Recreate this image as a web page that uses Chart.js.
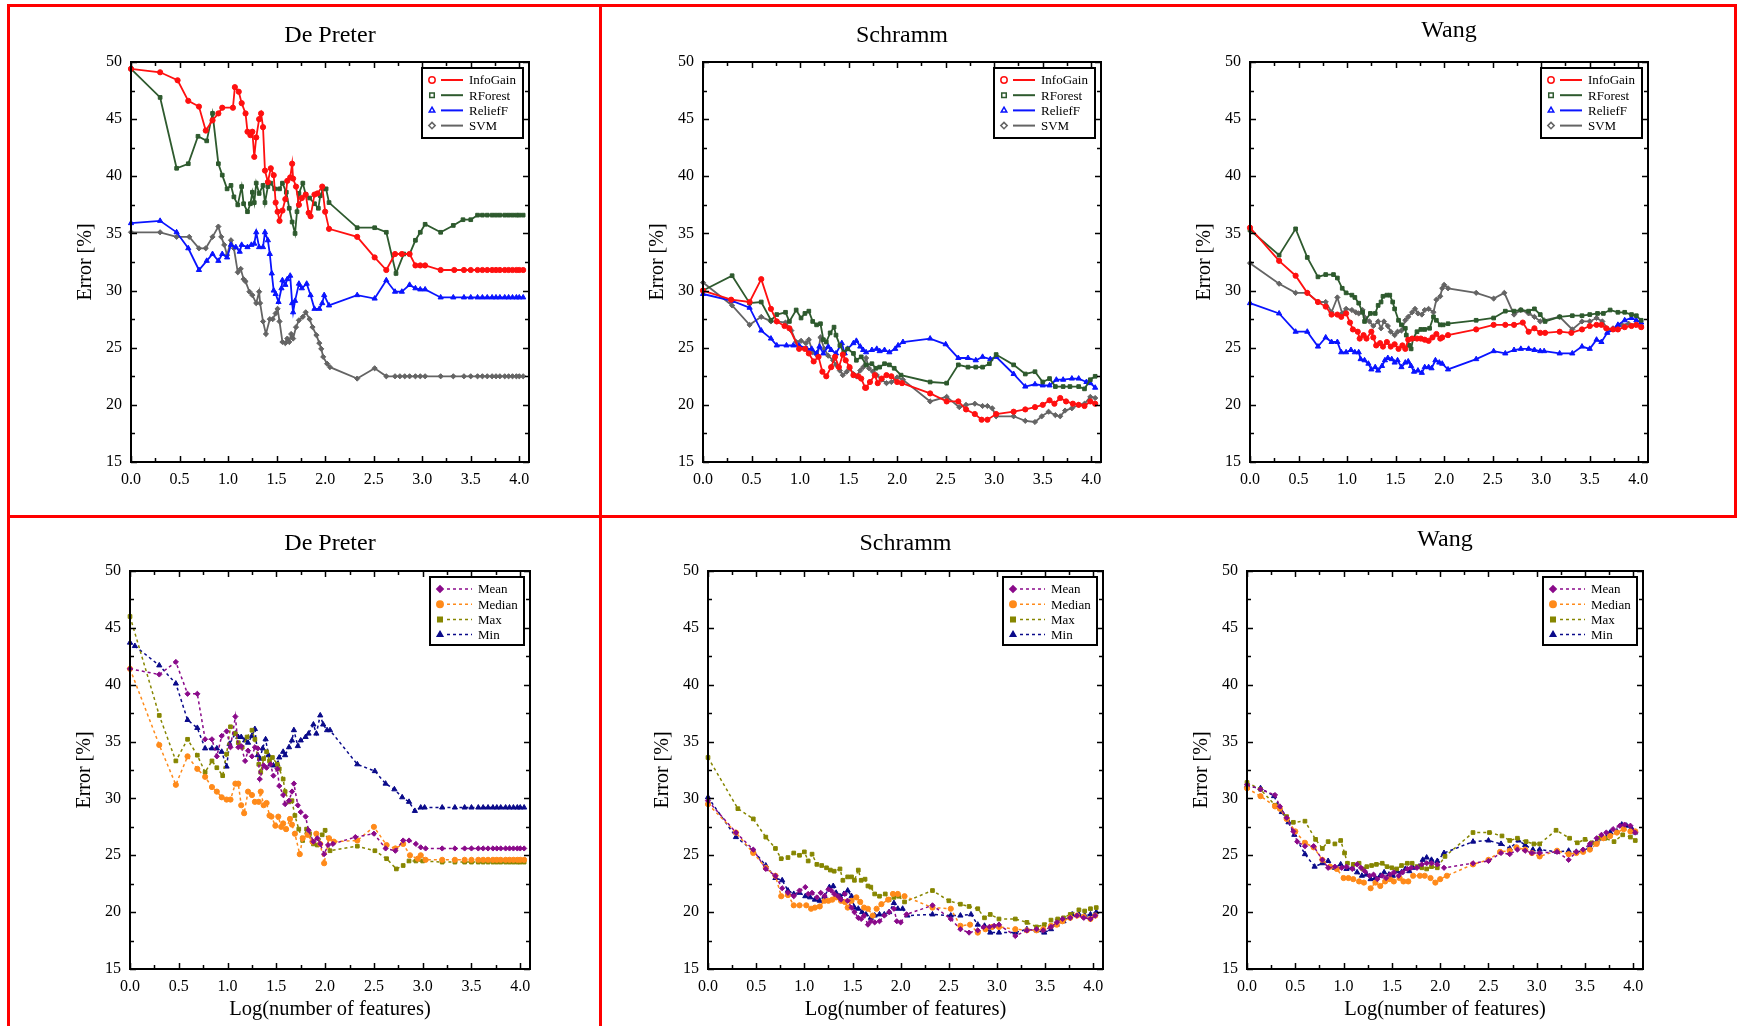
<!DOCTYPE html>
<html>
<head>
<meta charset="utf-8">
<title>Error vs number of features</title>
<script src="https://cdn.jsdelivr.net/npm/chart.js@4.4.1/dist/chart.umd.min.js"></script>
<style>
  html, body { margin: 0; padding: 0; background: #fff; }
  body { width: 1742px; height: 1026px; position: relative; overflow: hidden; }
  .redbox { position: absolute; border: 3px solid #ff0000; box-sizing: border-box; }
  .panel { position: absolute; }
</style>
</head>
<body>
<div class="redbox" style="left:7px;top:4px;width:595px;height:514px"></div>
<div class="redbox" style="left:599px;top:4px;width:1138px;height:514px"></div>
<div class="redbox" style="left:7px;top:515px;width:595px;height:530px"></div>

<div class="panel" id="p-tl"><canvas id="c-tl"></canvas></div>
<div class="panel" id="p-tm"><canvas id="c-tm"></canvas></div>
<div class="panel" id="p-tr"><canvas id="c-tr"></canvas></div>
<div class="panel" id="p-bl"><canvas id="c-bl"></canvas></div>
<div class="panel" id="p-bm"><canvas id="c-bm"></canvas></div>
<div class="panel" id="p-br"><canvas id="c-br"></canvas></div>

<script>
// ---- data: [log10(number of features), error %] ----

// Top row: De Preter
const dpInfoGain = [[0,49.4],[0.30,49.1],[0.48,48.4],[0.59,46.6],[0.70,46.1],[0.77,44.0],[0.84,44.9],[0.90,45.5],[0.94,46.0],[1.05,46.0],[1.07,47.8],[1.11,47.4],[1.14,46.4],[1.18,45.5],[1.20,43.9],[1.23,43.6],[1.25,43.9],[1.27,41.7],[1.29,43.4],[1.32,45.0],[1.34,45.5],[1.36,44.3],[1.38,40.5],[1.41,39.5],[1.44,40.7],[1.47,40.1],[1.49,37.7],[1.51,36.9],[1.53,36.1],[1.56,37.0],[1.59,38.0],[1.61,39.6],[1.64,39.9],[1.66,41.1],[1.67,39.8],[1.70,39.1],[1.73,37.5],[1.76,38.1],[1.80,38.4],[1.83,36.8],[1.85,36.5],[1.89,38.4],[1.92,38.5],[1.97,39.1],[2.00,36.9],[2.04,35.4],[2.33,34.7],[2.51,32.9],[2.63,31.8],[2.72,33.2],[2.79,33.2],[2.87,33.2],[2.93,32.2],[2.98,32.2],[3.03,32.2],[3.19,31.8],[3.33,31.8],[3.43,31.8],[3.50,31.8],[3.57,31.8],[3.62,31.8],[3.67,31.8],[3.72,31.8],[3.76,31.8],[3.80,31.8],[3.85,31.8],[3.89,31.8],[3.93,31.8],[3.97,31.8],[4.00,31.8],[4.04,31.8]];
const dpRForest = [[0,49.4],[0.30,46.9],[0.47,40.7],[0.59,41.1],[0.69,43.5],[0.78,43.1],[0.84,45.5],[0.90,41.1],[0.94,40.1],[0.99,38.9],[1.03,39.2],[1.06,38.2],[1.10,37.5],[1.14,39.1],[1.16,37.6],[1.20,36.9],[1.23,37.6],[1.25,38.6],[1.27,37.7],[1.29,39.4],[1.32,38.5],[1.36,39.2],[1.38,37.7],[1.41,39.1],[1.44,39.4],[1.48,38.9],[1.53,38.9],[1.56,39.4],[1.60,38.6],[1.63,37.2],[1.66,36.0],[1.69,35.0],[1.71,36.9],[1.73,38.5],[1.77,39.4],[1.80,38.4],[1.84,38.1],[1.89,37.6],[1.93,37.2],[1.95,38.3],[1.98,38.9],[2.01,38.9],[2.04,37.7],[2.33,35.5],[2.51,35.5],[2.63,35.1],[2.73,31.5],[2.81,33.2],[2.87,33.2],[2.93,34.4],[2.98,35.1],[3.03,35.8],[3.19,35.1],[3.32,35.7],[3.42,36.2],[3.50,36.2],[3.57,36.6],[3.62,36.6],[3.67,36.6],[3.72,36.6],[3.76,36.6],[3.80,36.6],[3.85,36.6],[3.89,36.6],[3.93,36.6],[3.97,36.6],[4.00,36.6],[4.04,36.6]];
const dpReliefF = [[0,35.9],[0.30,36.1],[0.47,35.1],[0.59,33.7],[0.70,31.8],[0.78,32.6],[0.84,33.2],[0.90,32.6],[0.94,33.2],[0.99,32.9],[1.03,34.0],[1.08,33.8],[1.12,33.4],[1.14,34.0],[1.20,33.8],[1.24,34.0],[1.27,34.1],[1.29,35.1],[1.32,33.8],[1.36,33.8],[1.38,35.1],[1.41,34.4],[1.43,33.2],[1.45,31.5],[1.47,30.0],[1.49,29.7],[1.52,29.0],[1.55,30.2],[1.56,30.9],[1.59,30.5],[1.61,31.0],[1.64,31.3],[1.66,28.9],[1.67,28.1],[1.69,29.1],[1.73,30.6],[1.76,30.2],[1.81,30.6],[1.85,29.6],[1.89,28.4],[1.94,28.4],[1.97,28.9],[1.99,29.6],[2.04,28.7],[2.33,29.6],[2.51,29.3],[2.63,30.9],[2.72,29.9],[2.79,29.9],[2.87,30.5],[2.93,30.2],[2.98,30.1],[3.03,30.1],[3.19,29.4],[3.32,29.4],[3.43,29.4],[3.50,29.4],[3.57,29.4],[3.62,29.4],[3.67,29.4],[3.72,29.4],[3.76,29.4],[3.80,29.4],[3.85,29.4],[3.89,29.4],[3.93,29.4],[3.97,29.4],[4.00,29.4],[4.04,29.4]];
const dpSVM = [[0,35.1],[0.30,35.1],[0.47,34.7],[0.60,34.7],[0.70,33.7],[0.77,33.7],[0.84,34.7],[0.90,35.6],[0.93,34.7],[0.96,34.0],[0.99,33.1],[1.03,34.4],[1.06,33.7],[1.10,31.6],[1.13,31.9],[1.16,31.0],[1.18,30.8],[1.22,29.9],[1.25,29.6],[1.29,28.9],[1.32,29.9],[1.33,28.9],[1.36,27.3],[1.39,26.2],[1.43,27.5],[1.46,27.5],[1.49,28.0],[1.51,28.4],[1.53,27.3],[1.56,25.5],[1.59,25.4],[1.61,25.8],[1.63,25.5],[1.65,26.2],[1.67,25.8],[1.70,26.8],[1.73,27.4],[1.77,27.7],[1.80,28.1],[1.84,27.5],[1.87,26.8],[1.91,26.1],[1.94,25.4],[1.96,24.9],[1.98,24.2],[2.02,23.6],[2.05,23.3],[2.33,22.3],[2.51,23.2],[2.63,22.5],[2.72,22.5],[2.77,22.5],[2.82,22.5],[2.87,22.5],[2.93,22.5],[2.98,22.5],[3.03,22.5],[3.19,22.5],[3.32,22.5],[3.43,22.5],[3.50,22.5],[3.57,22.5],[3.62,22.5],[3.67,22.5],[3.72,22.5],[3.76,22.5],[3.80,22.5],[3.85,22.5],[3.89,22.5],[3.93,22.5],[3.97,22.5],[4.00,22.5],[4.04,22.5]];

// Top row: Schramm
const schInfoGain = [[0,30.0],[0.29,29.2],[0.48,29.0],[0.60,31.0],[0.70,28.4],[0.76,27.3],[0.84,26.9],[0.89,26.7],[0.99,24.9],[1.05,24.9],[1.09,24.5],[1.14,23.8],[1.19,24.2],[1.23,22.9],[1.27,22.5],[1.32,23.3],[1.36,24.2],[1.40,23.3],[1.44,24.4],[1.47,23.9],[1.51,23.3],[1.55,22.6],[1.60,22.5],[1.63,22.3],[1.67,21.5],[1.68,21.5],[1.72,22.0],[1.77,22.6],[1.80,21.9],[1.84,22.3],[1.89,22.6],[1.94,22.5],[2.00,22.0],[2.05,21.9],[2.34,21.0],[2.51,20.3],[2.63,20.3],[2.71,19.6],[2.80,19.2],[2.87,18.7],[2.93,18.7],[3.02,19.2],[3.20,19.4],[3.32,19.6],[3.42,19.8],[3.50,20.0],[3.57,20.4],[3.62,20.1],[3.68,20.6],[3.74,20.3],[3.81,20.1],[3.87,20.0],[3.93,19.9],[3.99,20.3],[4.04,20.1]];
const schRForest = [[0,30.0],[0.30,31.3],[0.48,28.9],[0.60,29.0],[0.70,27.4],[0.76,27.9],[0.85,28.1],[0.89,27.3],[0.96,28.3],[1.01,27.6],[1.05,28.0],[1.09,28.2],[1.13,27.3],[1.17,27.0],[1.21,27.1],[1.24,25.7],[1.27,25.5],[1.31,26.3],[1.35,26.8],[1.37,26.1],[1.41,25.2],[1.45,24.6],[1.49,24.9],[1.55,24.5],[1.58,23.9],[1.63,24.2],[1.68,23.5],[1.74,23.6],[1.78,23.2],[1.82,23.3],[1.87,23.6],[1.92,23.5],[1.97,23.2],[2.04,22.6],[2.34,22.0],[2.51,21.9],[2.63,23.5],[2.73,23.3],[2.81,23.3],[2.88,23.3],[2.95,23.6],[3.02,24.4],[3.20,23.5],[3.32,22.7],[3.42,22.9],[3.50,22.0],[3.57,22.3],[3.63,21.6],[3.71,21.6],[3.78,21.6],[3.87,21.6],[3.93,21.4],[3.99,22.2],[4.04,22.5]];
const schReliefF = [[0,29.7],[0.30,29.1],[0.48,28.5],[0.60,26.5],[0.70,25.8],[0.76,25.2],[0.86,25.2],[0.93,25.2],[0.99,25.2],[1.07,24.9],[1.12,24.9],[1.17,24.5],[1.20,25.1],[1.24,24.5],[1.29,25.1],[1.32,24.8],[1.37,24.5],[1.43,25.4],[1.46,24.5],[1.49,24.9],[1.55,25.4],[1.58,25.6],[1.62,25.1],[1.65,24.8],[1.68,24.6],[1.74,24.8],[1.79,24.9],[1.82,24.7],[1.87,24.8],[1.92,24.6],[1.98,24.9],[2.01,25.2],[2.06,25.5],[2.34,25.8],[2.50,25.3],[2.63,24.1],[2.73,24.1],[2.81,23.9],[2.88,24.2],[2.96,24.0],[3.02,24.2],[3.20,22.7],[3.32,21.6],[3.42,21.8],[3.50,21.7],[3.57,21.7],[3.64,22.2],[3.71,22.2],[3.80,22.3],[3.87,22.3],[3.95,22.0],[3.99,21.9],[4.04,21.5]];
const schSVM = [[0,30.7],[0.30,28.7],[0.48,27.0],[0.60,27.7],[0.70,27.3],[0.76,27.3],[0.85,27.2],[0.91,26.5],[0.96,25.5],[1.01,25.6],[1.06,25.4],[1.09,25.7],[1.13,24.6],[1.18,24.3],[1.21,25.9],[1.25,24.9],[1.29,24.3],[1.34,23.9],[1.37,23.5],[1.41,23.0],[1.44,22.6],[1.48,22.9],[1.51,23.2],[1.55,22.7],[1.58,22.5],[1.62,23.0],[1.65,23.3],[1.68,24.1],[1.71,23.2],[1.75,22.9],[1.79,22.6],[1.84,22.2],[1.89,21.9],[1.94,22.0],[2.00,22.4],[2.06,22.2],[2.34,20.3],[2.51,20.7],[2.64,19.8],[2.71,20.0],[2.80,20.1],[2.88,19.9],[2.93,19.9],[2.98,19.7],[3.02,19.0],[3.20,19.0],[3.32,18.6],[3.42,18.5],[3.49,19.0],[3.56,19.4],[3.63,19.1],[3.68,19.0],[3.73,19.5],[3.80,19.7],[3.87,20.0],[3.93,20.1],[3.99,20.7],[4.04,20.6]];

// Top row: Wang
const wangInfoGain = [[0,35.5],[0.30,32.6],[0.47,31.3],[0.59,29.8],[0.70,29.0],[0.78,28.6],[0.84,27.9],[0.90,27.9],[0.94,27.7],[0.99,28.0],[1.03,27.2],[1.06,26.6],[1.11,26.4],[1.13,25.8],[1.17,26.1],[1.20,25.8],[1.25,26.4],[1.27,25.9],[1.30,25.2],[1.34,25.4],[1.37,25.1],[1.41,25.5],[1.45,25.1],[1.49,25.3],[1.53,24.9],[1.57,25.2],[1.60,24.9],[1.63,25.7],[1.67,25.8],[1.72,25.8],[1.76,25.8],[1.80,25.7],[1.84,25.6],[1.88,25.9],[1.92,26.2],[1.96,25.8],[1.98,25.9],[2.04,26.1],[2.33,26.6],[2.51,27.0],[2.63,27.0],[2.72,27.0],[2.81,27.2],[2.87,26.4],[2.93,26.7],[2.99,26.3],[3.04,26.3],[3.19,26.4],[3.31,26.3],[3.42,26.6],[3.50,26.9],[3.57,27.0],[3.62,27.0],[3.67,26.7],[3.74,26.6],[3.79,26.6],[3.86,26.8],[3.93,26.9],[3.98,27.0],[4.03,26.8]];
const wangRForest = [[0,35.3],[0.30,33.1],[0.47,35.4],[0.59,32.9],[0.70,31.2],[0.78,31.4],[0.86,31.4],[0.90,31.1],[0.95,30.2],[0.99,29.8],[1.05,29.6],[1.08,29.4],[1.12,28.9],[1.16,28.1],[1.18,27.3],[1.24,28.0],[1.29,28.0],[1.32,28.7],[1.35,29.0],[1.37,29.5],[1.41,29.6],[1.44,29.6],[1.47,29.0],[1.49,28.4],[1.53,27.4],[1.56,27.0],[1.60,26.7],[1.61,26.1],[1.64,25.2],[1.66,24.9],[1.68,25.8],[1.72,26.4],[1.76,26.6],[1.80,26.6],[1.85,26.7],[1.89,27.7],[1.92,27.4],[1.96,27.0],[1.99,27.0],[2.04,27.1],[2.33,27.4],[2.51,27.6],[2.63,28.2],[2.72,28.2],[2.79,28.3],[2.87,28.2],[2.93,28.4],[2.99,27.9],[3.04,27.3],[3.19,27.7],[3.32,27.8],[3.42,27.8],[3.50,27.9],[3.58,28.0],[3.64,28.0],[3.71,28.3],[3.79,28.1],[3.86,28.1],[3.93,27.9],[3.98,27.8],[4.03,27.4]];
const wangReliefF = [[0,28.9],[0.30,28.0],[0.47,26.4],[0.59,26.4],[0.70,25.1],[0.78,25.9],[0.84,25.5],[0.90,25.5],[0.94,24.6],[0.99,24.6],[1.04,24.8],[1.08,24.6],[1.12,24.6],[1.14,24.0],[1.18,23.9],[1.22,23.6],[1.25,23.1],[1.29,23.3],[1.32,23.0],[1.36,23.4],[1.39,23.9],[1.42,24.1],[1.46,24.0],[1.49,23.7],[1.52,23.9],[1.56,23.3],[1.60,23.7],[1.63,23.8],[1.66,23.4],[1.69,22.9],[1.73,23.0],[1.77,22.8],[1.80,23.3],[1.84,23.3],[1.87,23.2],[1.91,23.9],[1.95,23.7],[1.98,23.6],[2.04,23.1],[2.33,24.0],[2.51,24.7],[2.63,24.5],[2.72,24.8],[2.79,24.9],[2.87,24.9],[2.93,24.8],[2.99,24.7],[3.03,24.7],[3.19,24.5],[3.32,24.5],[3.42,25.1],[3.50,24.9],[3.57,25.7],[3.62,25.5],[3.68,26.3],[3.74,26.6],[3.79,27.0],[3.86,27.4],[3.93,27.6],[3.98,27.4],[4.03,27.2]];
const wangSVM = [[0,32.4],[0.30,30.6],[0.47,29.8],[0.59,29.8],[0.70,29.0],[0.78,29.0],[0.84,28.1],[0.90,29.4],[0.95,28.0],[0.99,28.4],[1.05,28.3],[1.09,28.1],[1.12,28.0],[1.16,28.3],[1.19,27.6],[1.23,27.3],[1.27,26.9],[1.32,27.3],[1.35,26.7],[1.38,27.3],[1.42,26.9],[1.45,26.4],[1.49,26.1],[1.52,26.4],[1.56,26.5],[1.60,27.4],[1.63,27.7],[1.67,28.1],[1.70,28.4],[1.73,28.0],[1.77,27.9],[1.80,28.3],[1.84,28.4],[1.89,28.1],[1.92,29.2],[1.96,29.5],[1.98,30.2],[2.00,30.5],[2.04,30.2],[2.33,29.8],[2.51,29.3],[2.62,29.8],[2.72,27.9],[2.79,28.3],[2.87,28.0],[2.93,27.7],[2.99,27.3],[3.03,27.4],[3.19,27.7],[3.32,26.6],[3.42,27.3],[3.50,27.3],[3.57,27.6],[3.63,27.3],[3.69,26.6],[3.74,26.7],[3.83,27.0],[3.90,27.1],[3.97,27.0],[4.03,26.9]];

// Bottom row: De Preter
const dpMean = [[0,41.4],[0.30,40.9],[0.47,42.0],[0.59,39.2],[0.69,39.2],[0.77,35.2],[0.84,35.2],[0.89,33.7],[0.94,35.5],[0.99,35.9],[1.03,34.5],[1.08,37.2],[1.11,34.5],[1.14,34.6],[1.18,33.3],[1.21,34.2],[1.25,33.7],[1.28,34.5],[1.31,34.4],[1.33,31.7],[1.37,32.9],[1.40,32.7],[1.44,33.0],[1.47,32.0],[1.51,32.6],[1.53,31.1],[1.57,30.3],[1.59,29.5],[1.63,29.8],[1.66,30.6],[1.68,31.3],[1.72,29.4],[1.75,28.8],[1.80,28.4],[1.83,27.2],[1.88,26.2],[1.92,26.5],[1.95,26.0],[1.99,25.1],[2.03,25.9],[2.08,26.0],[2.31,26.6],[2.50,26.9],[2.62,25.6],[2.72,25.4],[2.80,26.3],[2.86,26.3],[2.93,26.0],[2.98,25.7],[3.03,25.6],[3.20,25.6],[3.33,25.6],[3.43,25.6],[3.50,25.6],[3.57,25.6],[3.62,25.6],[3.67,25.6],[3.72,25.6],[3.76,25.6],[3.80,25.6],[3.85,25.6],[3.89,25.6],[3.93,25.6],[3.97,25.6],[4.00,25.6],[4.04,25.6]];
const dpMedian = [[0,41.4],[0.30,34.7],[0.47,31.2],[0.59,33.7],[0.69,32.6],[0.77,31.9],[0.84,31.0],[0.89,30.6],[0.94,30.1],[0.99,29.9],[1.03,29.9],[1.08,31.3],[1.11,31.3],[1.14,29.4],[1.17,28.7],[1.21,30.6],[1.25,30.3],[1.28,29.7],[1.32,29.7],[1.34,30.6],[1.37,29.4],[1.40,29.6],[1.43,28.5],[1.45,28.4],[1.49,27.6],[1.52,28.4],[1.55,27.5],[1.57,27.8],[1.60,27.3],[1.64,28.2],[1.66,27.7],[1.69,26.9],[1.74,25.1],[1.77,26.5],[1.82,26.8],[1.87,26.2],[1.91,26.9],[1.95,26.0],[1.99,24.3],[2.04,26.5],[2.09,26.2],[2.33,26.3],[2.50,27.5],[2.63,25.9],[2.72,25.6],[2.80,26.0],[2.87,25.0],[2.95,24.7],[2.98,25.0],[3.03,24.6],[3.20,24.6],[3.33,24.6],[3.43,24.6],[3.50,24.6],[3.57,24.6],[3.62,24.6],[3.67,24.6],[3.72,24.6],[3.76,24.6],[3.80,24.6],[3.85,24.6],[3.89,24.6],[3.93,24.6],[3.97,24.6],[4.00,24.6],[4.04,24.6]];
const dpMax = [[0,46.0],[0.30,37.3],[0.47,33.3],[0.59,35.2],[0.69,33.8],[0.77,32.3],[0.84,33.3],[0.89,32.7],[0.95,32.0],[0.99,33.9],[1.03,36.3],[1.08,35.7],[1.11,34.9],[1.15,34.5],[1.20,35.4],[1.25,36.0],[1.28,35.2],[1.32,33.0],[1.34,32.3],[1.37,33.5],[1.40,34.1],[1.43,33.3],[1.46,33.6],[1.51,33.0],[1.53,32.6],[1.57,31.7],[1.59,30.6],[1.63,29.7],[1.66,29.8],[1.69,28.5],[1.73,27.3],[1.77,26.3],[1.81,27.3],[1.84,26.9],[1.88,26.0],[1.92,25.9],[1.97,26.8],[2.00,27.2],[2.05,25.4],[2.33,25.8],[2.51,25.4],[2.63,24.7],[2.73,23.8],[2.80,24.1],[2.86,24.5],[2.93,24.5],[3.00,24.5],[3.20,24.4],[3.33,24.4],[3.43,24.4],[3.50,24.4],[3.57,24.4],[3.62,24.4],[3.67,24.4],[3.72,24.4],[3.76,24.4],[3.80,24.4],[3.85,24.4],[3.89,24.4],[3.93,24.4],[3.97,24.4],[4.00,24.4],[4.04,24.4]];
const dpMin = [[0,43.7],[0.05,43.4],[0.30,41.7],[0.47,40.1],[0.59,36.9],[0.69,36.2],[0.77,34.4],[0.84,34.4],[0.89,34.4],[0.94,34.1],[0.99,32.8],[1.02,34.8],[1.08,35.7],[1.11,35.4],[1.14,35.4],[1.18,35.1],[1.21,34.9],[1.25,35.5],[1.28,36.1],[1.31,33.8],[1.33,33.5],[1.36,34.4],[1.39,35.2],[1.42,33.8],[1.44,33.0],[1.47,32.9],[1.51,33.0],[1.53,33.6],[1.57,34.1],[1.59,33.8],[1.63,34.5],[1.66,35.1],[1.68,36.0],[1.72,34.6],[1.75,35.1],[1.80,35.4],[1.83,35.7],[1.88,36.5],[1.91,35.7],[1.95,37.3],[1.98,36.5],[2.02,36.0],[2.05,36.0],[2.33,33.0],[2.51,32.4],[2.62,31.3],[2.71,30.8],[2.79,30.1],[2.86,29.7],[2.92,28.9],[2.98,29.2],[3.02,29.2],[3.20,29.2],[3.33,29.2],[3.43,29.2],[3.50,29.2],[3.57,29.2],[3.62,29.2],[3.67,29.2],[3.72,29.2],[3.76,29.2],[3.80,29.2],[3.85,29.2],[3.89,29.2],[3.93,29.2],[3.97,29.2],[4.00,29.2],[4.04,29.2]];

// Bottom row: Schramm
const schMean = [[0,29.8],[0.29,27.0],[0.47,25.5],[0.60,23.8],[0.70,23.2],[0.77,22.1],[0.83,21.7],[0.89,21.4],[0.95,21.9],[1.01,22.2],[1.04,21.6],[1.08,21.7],[1.13,21.3],[1.17,21.7],[1.21,21.4],[1.25,22.0],[1.28,21.9],[1.31,21.6],[1.35,21.4],[1.38,21.1],[1.42,21.6],[1.45,21.0],[1.49,20.4],[1.52,20.0],[1.56,19.5],[1.59,19.4],[1.62,19.7],[1.66,18.9],[1.69,19.2],[1.73,19.1],[1.78,19.2],[1.83,19.7],[1.88,20.0],[1.93,20.3],[1.96,19.2],[2.00,19.1],[2.06,19.8],[2.33,20.6],[2.52,19.4],[2.62,18.5],[2.71,18.2],[2.80,18.4],[2.86,18.7],[2.92,18.7],[2.97,18.8],[3.02,18.9],[3.19,17.9],[3.31,18.4],[3.41,18.5],[3.48,18.4],[3.56,18.7],[3.62,19.1],[3.68,19.4],[3.76,19.5],[3.83,19.7],[3.90,19.5],[3.97,19.4],[4.02,19.7]];
const schMedian = [[0,29.5],[0.29,27.0],[0.47,25.2],[0.60,23.9],[0.70,23.2],[0.76,21.4],[0.83,21.5],[0.89,20.6],[0.95,20.6],[1.02,20.6],[1.07,20.3],[1.11,20.4],[1.16,20.5],[1.21,21.0],[1.25,21.0],[1.29,21.1],[1.33,21.3],[1.38,21.0],[1.42,20.9],[1.45,20.4],[1.49,21.0],[1.54,21.3],[1.58,20.9],[1.62,20.4],[1.66,20.3],[1.71,19.7],[1.75,20.3],[1.80,20.7],[1.87,21.1],[1.92,21.6],[1.97,21.6],[2.04,21.4],[2.33,20.4],[2.52,20.3],[2.62,18.8],[2.72,18.9],[2.80,18.2],[2.88,18.5],[2.95,18.7],[3.02,18.7],[3.19,18.5],[3.31,18.4],[3.41,18.4],[3.48,18.5],[3.56,18.8],[3.62,18.9],[3.68,19.2],[3.76,19.5],[3.83,19.7],[3.90,19.6],[3.97,19.4],[4.02,19.7]];
const schMax = [[0,33.6],[0.31,29.1],[0.47,28.2],[0.60,26.6],[0.70,25.6],[0.76,24.7],[0.83,24.8],[0.89,25.2],[0.95,25.0],[1.00,25.3],[1.04,24.5],[1.08,25.1],[1.13,24.2],[1.18,24.1],[1.23,23.9],[1.27,23.7],[1.31,23.6],[1.37,23.8],[1.40,22.8],[1.45,23.1],[1.49,23.1],[1.52,22.8],[1.56,23.7],[1.59,22.8],[1.63,22.9],[1.66,22.3],[1.69,22.2],[1.73,21.6],[1.78,21.4],[1.84,21.6],[1.88,21.1],[1.93,21.3],[1.98,21.4],[2.04,20.9],[2.33,21.9],[2.50,21.0],[2.62,20.7],[2.71,20.5],[2.80,20.3],[2.87,19.5],[2.93,19.8],[3.02,19.4],[3.19,19.4],[3.31,19.1],[3.41,18.7],[3.49,18.9],[3.56,19.3],[3.63,19.4],[3.69,19.5],[3.76,19.8],[3.85,20.2],[3.91,20.1],[3.97,20.3],[4.03,20.4]];
const schMin = [[0,30.1],[0.29,26.6],[0.47,25.4],[0.60,24.1],[0.70,23.0],[0.77,22.8],[0.83,21.9],[0.89,21.6],[0.95,21.7],[1.01,21.4],[1.06,21.3],[1.11,21.1],[1.16,21.0],[1.21,21.4],[1.26,22.2],[1.30,22.3],[1.33,21.7],[1.37,21.4],[1.41,21.6],[1.45,21.9],[1.49,21.4],[1.52,20.4],[1.56,20.3],[1.60,20.0],[1.64,19.8],[1.69,19.5],[1.73,19.7],[1.78,19.8],[1.83,19.8],[1.88,20.0],[1.93,20.8],[1.97,20.3],[2.02,20.3],[2.07,19.7],[2.33,19.8],[2.52,19.7],[2.62,19.7],[2.73,19.8],[2.80,18.9],[2.87,18.8],[2.93,18.2],[3.02,18.2],[3.19,18.2],[3.31,18.5],[3.41,18.4],[3.49,18.2],[3.56,18.5],[3.62,18.9],[3.69,19.2],[3.78,19.8],[3.85,19.8],[3.91,19.7],[3.97,19.8],[4.03,20.0]];

// Bottom row: Wang
const wangMean = [[0,31.2],[0.14,30.8],[0.29,30.3],[0.34,29.3],[0.41,28.3],[0.48,27.1],[0.52,26.2],[0.60,25.8],[0.69,25.8],[0.78,24.6],[0.84,23.9],[0.91,24.0],[0.98,23.9],[1.03,24.0],[1.09,23.8],[1.14,24.2],[1.18,23.9],[1.22,23.6],[1.27,23.2],[1.31,23.3],[1.35,22.9],[1.40,23.2],[1.44,23.0],[1.48,23.3],[1.52,23.5],[1.57,23.2],[1.61,23.5],[1.66,23.8],[1.70,23.9],[1.76,23.9],[1.81,24.2],[1.86,24.3],[1.91,24.3],[1.97,24.2],[2.04,23.9],[2.34,24.3],[2.50,24.5],[2.63,25.2],[2.72,25.1],[2.80,25.5],[2.88,25.4],[2.95,25.2],[3.03,25.2],[3.21,25.3],[3.33,24.6],[3.41,25.3],[3.48,25.5],[3.55,26.0],[3.62,26.5],[3.67,26.8],[3.72,27.0],[3.79,27.3],[3.86,27.6],[3.91,27.7],[3.97,27.6],[4.02,27.0]];
const wangMedian = [[0,30.9],[0.14,30.2],[0.29,29.3],[0.34,29.1],[0.41,28.2],[0.50,27.1],[0.60,26.1],[0.69,25.7],[0.78,24.6],[0.86,24.0],[0.93,23.8],[1.00,23.0],[1.05,23.0],[1.10,22.9],[1.16,22.7],[1.21,22.6],[1.28,22.1],[1.33,22.6],[1.38,22.3],[1.43,22.7],[1.48,22.9],[1.52,22.7],[1.58,23.0],[1.62,22.7],[1.67,22.7],[1.72,23.2],[1.79,23.2],[1.84,23.2],[1.90,23.0],[1.95,22.6],[2.00,22.9],[2.07,23.2],[2.34,24.2],[2.50,24.6],[2.62,25.3],[2.72,25.4],[2.79,25.7],[2.88,25.5],[2.95,25.2],[3.03,24.9],[3.21,25.4],[3.33,25.1],[3.41,25.2],[3.48,25.3],[3.55,25.5],[3.62,26.0],[3.69,26.5],[3.76,26.7],[3.83,27.0],[3.90,27.3],[3.97,27.1],[4.02,27.1]];
const wangMax = [[0,31.4],[0.14,30.8],[0.29,29.4],[0.41,28.4],[0.48,27.9],[0.60,28.0],[0.71,26.4],[0.78,25.6],[0.84,26.2],[0.91,26.0],[0.97,26.3],[1.01,25.2],[1.04,24.3],[1.10,24.2],[1.16,24.3],[1.20,23.8],[1.24,24.0],[1.29,24.1],[1.34,24.2],[1.40,24.3],[1.45,24.0],[1.50,23.9],[1.55,23.8],[1.60,24.1],[1.66,24.3],[1.71,24.3],[1.76,24.0],[1.81,23.9],[1.86,23.8],[1.91,24.0],[1.97,23.9],[2.05,24.9],[2.34,27.0],[2.51,27.0],[2.64,26.7],[2.72,26.3],[2.80,26.5],[2.89,26.2],[2.97,26.0],[3.03,26.0],[3.20,27.2],[3.34,26.5],[3.42,26.1],[3.50,26.4],[3.57,26.1],[3.64,26.5],[3.71,26.5],[3.80,26.2],[3.89,26.8],[3.97,26.6],[4.02,26.3]];
const wangMin = [[0,31.1],[0.14,30.9],[0.28,30.2],[0.36,28.8],[0.43,27.9],[0.49,26.8],[0.60,25.1],[0.70,24.0],[0.78,24.3],[0.84,24.5],[0.91,23.9],[0.97,24.2],[1.03,23.8],[1.09,23.9],[1.14,23.5],[1.19,23.2],[1.24,23.3],[1.28,22.9],[1.33,23.0],[1.38,23.2],[1.42,23.5],[1.47,23.3],[1.51,23.2],[1.55,23.6],[1.60,23.5],[1.64,23.8],[1.68,23.6],[1.72,23.9],[1.78,24.0],[1.82,24.6],[1.86,24.8],[1.91,24.6],[1.97,24.5],[2.04,25.2],[2.34,26.2],[2.50,26.3],[2.63,26.0],[2.72,25.6],[2.81,26.3],[2.88,25.9],[2.96,25.5],[3.03,25.5],[3.21,25.3],[3.33,25.4],[3.41,25.3],[3.48,25.4],[3.55,25.7],[3.62,26.2],[3.69,26.5],[3.76,27.0],[3.83,27.1],[3.88,27.7],[3.93,27.6],[3.98,27.4],[4.02,27.0]];

// axis ranges and tick steps
const xRange = [0, 4.1];
const yRange = [15, 50];
const xStep = 0.5;
const yStep = 5;

// ---- styles ----
const topStyles = [
    { label: 'InfoGain', color: '#ff1010', shape: 'circle' },
    { label: 'RForest', color: '#2e5a2e', shape: 'rect' },
    { label: 'ReliefF', color: '#0a14ff', shape: 'triangle' },
    { label: 'SVM', color: '#646464', shape: 'rectRot' }
];
const bottomStyles = [
    { label: 'Mean', color: '#8a0a8a', shape: 'rectRot' },
    { label: 'Median', color: '#ff8a1a', shape: 'circle' },
    { label: 'Max', color: '#868600', shape: 'rect' },
    { label: 'Min', color: '#0a0a8a', shape: 'triangle' }
];

Chart.defaults.font.family = "'Liberation Serif', 'DejaVu Serif', serif";
Chart.defaults.color = '#000';

// Black frame with inward ticks on all four sides
const frameTicks = {
    id: 'frameTicks',
    afterDatasetsDraw(chart) {
        const { ctx, chartArea: a, scales: { x, y } } = chart;
        ctx.save();
        ctx.strokeStyle = '#000';
        ctx.lineWidth = 1.5;
        ctx.beginPath();
        for (let i = 0; i <= 16; i++) {
            const px = Math.round(x.getPixelForValue(i * 0.25)) + 0.5;
            const len = i % 2 === 0 ? 6 : 4;
            ctx.moveTo(px, a.bottom); ctx.lineTo(px, a.bottom - len);
            ctx.moveTo(px, a.top); ctx.lineTo(px, a.top + len);
        }
        for (let i = 0; i <= 14; i++) {
            const py = Math.round(y.getPixelForValue(15 + i * 2.5)) + 0.5;
            const len = i % 2 === 0 ? 6 : 4;
            ctx.moveTo(a.left, py); ctx.lineTo(a.left + len, py);
            ctx.moveTo(a.right, py); ctx.lineTo(a.right - len, py);
        }
        ctx.stroke();
        ctx.lineWidth = 2;
        ctx.strokeRect(a.left, a.top, a.right - a.left, a.bottom - a.top);
        ctx.restore();
    }
};

// Boxed legend in the upper right corner of the plot
const boxLegend = {
    id: 'boxLegend',
    afterDraw(chart, args, opts) {
        if (!opts || !opts.items) return;
        const { ctx, chartArea: a } = chart;
        const left = a.right - opts.inset - opts.w;
        const top = a.top + opts.inset;
        ctx.save();
        ctx.fillStyle = '#fff';
        ctx.fillRect(left, top, opts.w, opts.h);
        ctx.strokeStyle = '#000';
        ctx.lineWidth = 2;
        ctx.strokeRect(left, top, opts.w, opts.h);
        opts.items.forEach((it, i) => {
            const cy = top + 12 + i * 15.2;
            ctx.setLineDash([]);
            ctx.lineWidth = 1.5;
            ctx.strokeStyle = it.color;
            ctx.fillStyle = opts.open ? '#fff' : it.color;
            Chart.helpers.drawPoint(ctx, { pointStyle: it.shape, radius: 3.2, rotation: 0, borderWidth: 1.5 }, left + opts.mx, cy);
            ctx.beginPath();
            ctx.setLineDash(opts.dash);
            ctx.lineWidth = opts.open ? 2 : 1.5;
            ctx.moveTo(left + opts.l0, cy);
            ctx.lineTo(left + opts.l1, cy);
            ctx.stroke();
            ctx.setLineDash([]);
            ctx.fillStyle = '#000';
            ctx.font = "13px 'Liberation Serif'";
            ctx.textBaseline = 'middle';
            ctx.textAlign = 'left';
            ctx.fillText(it.label, left + opts.tx, cy + 1);
        });
        ctx.restore();
    }
};

function buildDatasets(seriesList, styles, dashed) {
    return seriesList.map((pts, i) => ({
        label: styles[i].label,
        data: pts.map(([x, y]) => ({ x, y })),
        borderColor: styles[i].color,
        backgroundColor: styles[i].color,
        borderWidth: dashed ? 1.5 : 1.8,
        borderDash: dashed ? [3, 3] : [],
        pointStyle: styles[i].shape,
        pointRadius: styles[i].shape === 'triangle' ? 3 : 2.6,
        pointBorderWidth: 1,
        pointBackgroundColor: styles[i].color,
        pointBorderColor: styles[i].color,
        tension: 0,
        clip: 6
    }));
}

function makePanel(p) {
    const yAxisW = 70, titleH = 50, titleLH = 28.8;
    const wrap = document.getElementById('p-' + p.id);
    const canvas = document.getElementById('c-' + p.id);
    const cw = p.w + 2 * yAxisW, ch = titleH + p.h + p.xh;
    wrap.style.left = (p.plotLeft - yAxisW) + 'px';
    wrap.style.top = (p.plotTop - titleH) + 'px';
    wrap.style.width = cw + 'px';
    wrap.style.height = ch + 'px';
    canvas.width = cw;
    canvas.height = ch;

    const bottomRow = p.row === 'bottom';
    const styles = bottomRow ? bottomStyles : topStyles;

    new Chart(canvas, {
        type: 'line',
        data: { datasets: buildDatasets(p.series, styles, bottomRow) },
        options: {
            responsive: false,
            animation: false,
            events: [],
            layout: { padding: 0 },
            scales: {
                x: {
                    type: 'linear',
                    min: xRange[0],
                    max: xRange[1],
                    grid: { display: false, drawTicks: false },
                    border: { display: false },
                    ticks: {
                        stepSize: xStep,
                        includeBounds: false,
                        padding: 8.4,
                        maxRotation: 0,
                        font: { size: 16 },
                        callback: v => v.toFixed(1)
                    },
                    title: {
                        display: bottomRow,
                        text: 'Log(number of features)',
                        font: { size: 20.5 },
                        padding: { top: 0, bottom: 3 }
                    },
                    afterFit: s => { s.height = p.xh; }
                },
                y: {
                    min: yRange[0],
                    max: yRange[1],
                    grid: { display: false, drawTicks: false },
                    border: { display: false },
                    ticks: { stepSize: yStep, padding: 9, font: { size: 16 } },
                    title: {
                        display: true,
                        text: 'Error [%]',
                        font: { size: 20 },
                        padding: { top: 13, bottom: 0 }
                    },
                    afterFit: s => { s.width = yAxisW; }
                },
                // empty right axis, keeps the plot centred under the title
                yRight: {
                    position: 'right',
                    grid: { display: false, drawTicks: false },
                    border: { display: false },
                    ticks: { display: false },
                    afterFit: s => { s.width = yAxisW; }
                }
            },
            plugins: {
                legend: { display: false },
                tooltip: { enabled: false },
                title: {
                    display: true,
                    text: p.title,
                    font: { size: 24, weight: 'normal' },
                    color: '#000',
                    padding: { top: p.titlePad, bottom: titleH - titleLH - p.titlePad }
                },
                boxLegend: bottomRow
                    ? { items: styles, open: false, dash: [3, 3], inset: 6, w: 94, h: 68, mx: 10, l0: 17, l1: 42, tx: 48 }
                    : { items: styles, open: true, dash: [], inset: 6, w: 101, h: 70, mx: 10, l0: 19, l1: 41, tx: 47 }
            }
        },
        plugins: [frameTicks, boxLegend]
    });
}

const panels = [
    { id: 'tl', row: 'top', title: 'De Preter', plotLeft: 131, plotTop: 62, w: 398, h: 400, xh: 30, titlePad: 9.6,
      series: [dpInfoGain, dpRForest, dpReliefF, dpSVM] },
    { id: 'tm', row: 'top', title: 'Schramm', plotLeft: 703, plotTop: 62, w: 398, h: 400, xh: 30, titlePad: 9.6,
      series: [schInfoGain, schRForest, schReliefF, schSVM] },
    { id: 'tr', row: 'top', title: 'Wang', plotLeft: 1250, plotTop: 62, w: 398, h: 400, xh: 30, titlePad: 4.6,
      series: [wangInfoGain, wangRForest, wangReliefF, wangSVM] },
    { id: 'bl', row: 'bottom', title: 'De Preter', plotLeft: 130, plotTop: 571, w: 400, h: 398, xh: 56, titlePad: 8.8,
      series: [dpMean, dpMedian, dpMax, dpMin] },
    { id: 'bm', row: 'bottom', title: 'Schramm', plotLeft: 708, plotTop: 571, w: 395, h: 398, xh: 56, titlePad: 8.8,
      series: [schMean, schMedian, schMax, schMin] },
    { id: 'br', row: 'bottom', title: 'Wang', plotLeft: 1247, plotTop: 571, w: 396, h: 398, xh: 56, titlePad: 4.6,
      series: [wangMean, wangMedian, wangMax, wangMin] }
];

panels.forEach(makePanel);
</script>
</body>
</html>
